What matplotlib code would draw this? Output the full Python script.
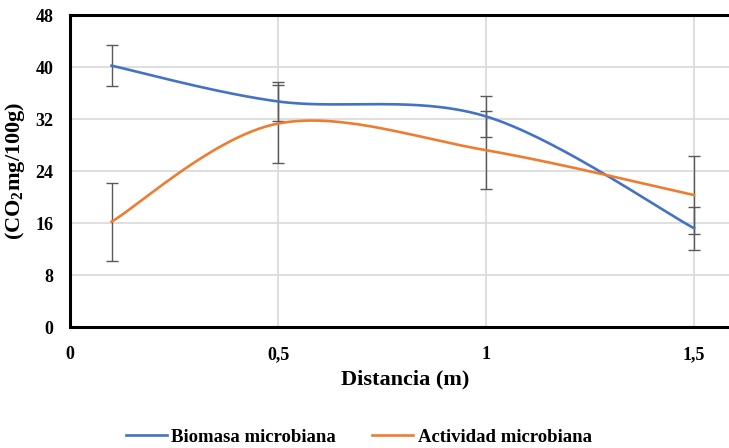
import matplotlib
matplotlib.use("Agg")
import matplotlib.pyplot as plt
import numpy as np

plt.rcParams['font.family'] = ['Liberation Serif', 'DejaVu Serif']
plt.rcParams['font.weight'] = 'bold'
plt.rcParams['mathtext.fontset'] = 'custom'
plt.rcParams['mathtext.rm'] = 'Liberation Serif:bold'
plt.rcParams['mathtext.bf'] = 'Liberation Serif:bold'

distancia = [0.1, 0.5, 1.0, 1.5]
biomasa = [40.2, 34.7, 32.4, 15.2]
biomasa_err = [3.2, 3.0, 3.1, 3.3]
actividad = [16.2, 31.3, 27.2, 20.3]
actividad_err = [6.0, 6.0, 6.0, 6.0]

y_ticks = [0, 8, 16, 24, 32, 40, 48]
x_ticks = [0, 0.5, 1, 1.5]
x_ticklabels = ['0', '0,5', '1', '1,5']


def smooth(xs, ys, n=60):
    # catmull-rom style bezier segments, like a spreadsheet "smoothed line"
    p = np.column_stack([xs, ys]).astype(float)
    p = np.vstack([p[0], p, p[-1]])
    out = []
    t = np.linspace(0, 1, n)[:, None]
    for i in range(1, len(p) - 2):
        p0, p1, p2, p3 = p[i - 1], p[i], p[i + 1], p[i + 2]
        c1 = p1 + (p2 - p0) / 6
        c2 = p2 - (p3 - p1) / 6
        seg = ((1 - t) ** 3) * p1 + 3 * ((1 - t) ** 2) * t * c1 \
            + 3 * (1 - t) * t ** 2 * c2 + t ** 3 * p2
        out.append(seg)
    out = np.vstack(out)
    return out[:, 0], out[:, 1]


fig = plt.figure(figsize=(7.29, 4.48), dpi=100)
ax = fig.add_axes([70 / 729, 1 - 327 / 448, 665.6 / 729, 312 / 448])

for ys, err, color, label in [(biomasa, biomasa_err, '#4472C4', 'Biomasa microbiana'),
                              (actividad, actividad_err, '#ED7D31', 'Actividad microbiana')]:
    sx, sy = smooth(distancia, ys)
    ax.plot(sx, sy, color=color, lw=1.9, label=label, zorder=3)
    ax.errorbar(distancia, ys, yerr=err, fmt='none', ecolor='#595959',
                elinewidth=1.0, capsize=4, capthick=1.0, zorder=2)

ax.set_xlim(0, 1.6)
ax.set_ylim(0, 48)
ax.set_yticks(y_ticks)
ax.set_xticks(x_ticks)
ax.set_xticklabels(x_ticklabels)
ax.tick_params(length=0, labelsize=13)
ax.tick_params(axis='y', pad=12)
ax.tick_params(axis='x', pad=14)
ax.grid(True, color='#D9D9D9', lw=1.2)
ax.set_axisbelow(True)
for side in ['left', 'bottom', 'top']:
    ax.spines[side].set_linewidth(2.2)
    ax.spines[side].set_color('black')
ax.spines['right'].set_visible(False)

ax.set_xlabel('Distancia (m)', fontsize=16, fontweight='bold')
ax.xaxis.set_label_coords(0.503, -0.135)
ax.set_ylabel(r'(CO$_2$mg/100g)', fontsize=16, fontweight='bold')
ax.yaxis.set_label_coords(-0.064, 0.5)

fig.legend(loc='center', bbox_to_anchor=(0.492, 1 - 437 / 448), ncol=2, frameon=False,
           fontsize=13.5, handlelength=2.2, columnspacing=1.9, handletextpad=0.25)

fig.savefig('out.png', dpi=100)
